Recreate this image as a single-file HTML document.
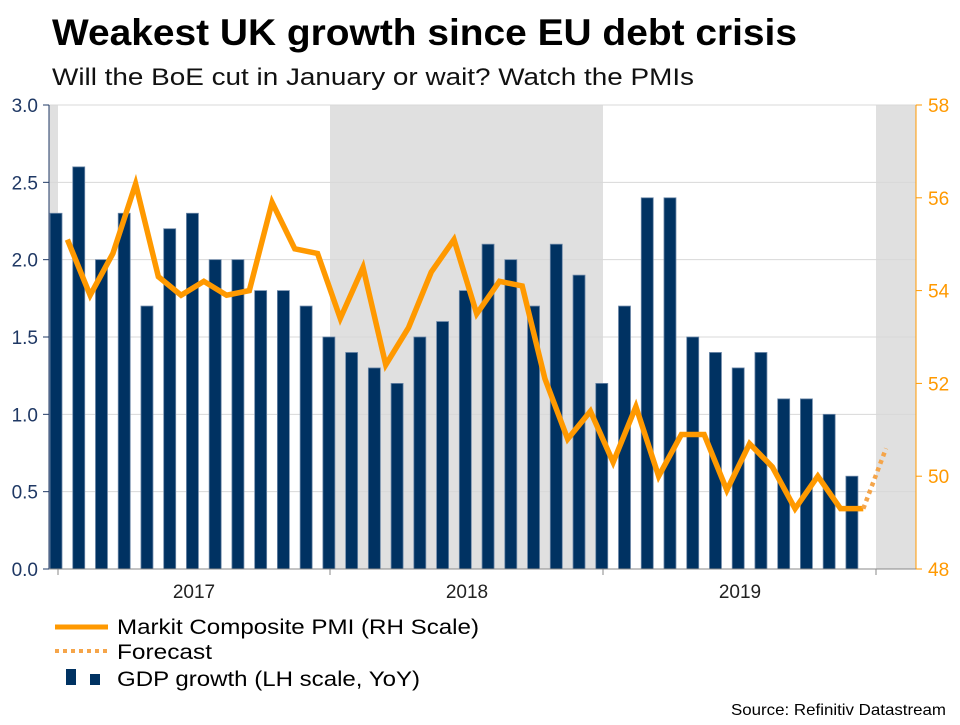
<!DOCTYPE html>
<html><head><meta charset="utf-8"><style>
body{margin:0;background:#fff;font-family:"Liberation Sans",Arial,sans-serif}
svg text{font-family:"Liberation Sans",Arial,sans-serif}
</style></head><body>
<svg id="c" width="960" height="720">
<text x="52" y="45" font-size="37" font-weight="bold" fill="#000" textLength="745" lengthAdjust="spacingAndGlyphs">Weakest UK growth since EU debt crisis</text>
<text x="52" y="85" font-size="24" fill="#111" textLength="642" lengthAdjust="spacingAndGlyphs">Will the BoE cut in January or wait? Watch the PMIs</text>
<g id="plot"></g>
<g>
<line x1="55" y1="627" x2="108" y2="627" stroke="#ff9900" stroke-width="5"/>
<text x="117" y="634" font-size="21" textLength="362" lengthAdjust="spacingAndGlyphs">Markit Composite PMI (RH Scale)</text>
<line x1="55" y1="651" x2="108" y2="651" stroke="#f5a54a" stroke-width="4" stroke-dasharray="4,4"/>
<text x="117" y="659" font-size="21" textLength="95" lengthAdjust="spacingAndGlyphs">Forecast</text>
<rect x="66" y="669" width="10" height="16" fill="#003262"/>
<rect x="90" y="674" width="10" height="11" fill="#003262"/>
<text x="117" y="686" font-size="21" textLength="303" lengthAdjust="spacingAndGlyphs">GDP growth (LH scale, YoY)</text>
</g>
<text x="946" y="715" font-size="16" text-anchor="end" textLength="215" lengthAdjust="spacingAndGlyphs">Source: Refinitiv Datastream</text>
</svg>
<script>
const gdp=[2.3,2.6,2.0,2.3,1.7,2.2,2.3,2.0,2.0,1.8,1.8,1.7,1.5,1.4,1.3,1.2,1.5,1.6,1.8,2.1,2.0,1.7,2.1,1.9,1.2,1.7,2.4,2.4,1.5,1.4,1.3,1.4,1.1,1.1,1.0,0.6];
const pmi=[55.1,53.9,54.8,56.3,54.3,53.9,54.2,53.9,54.0,55.9,54.9,54.8,53.4,54.5,52.4,53.2,54.4,55.1,53.5,54.2,54.1,52.1,50.8,51.4,50.3,51.5,50.0,50.9,50.9,49.7,50.7,50.2,49.3,50.0,49.3,49.3];
const forecast=[49.3,50.6];
const leftTicks=[0,0.5,1.0,1.5,2.0,2.5,3.0];
const rightTicks=[48,50,52,54,56,58];
const years=["2017","2018","2019"];
const NS="http://www.w3.org/2000/svg",g=document.getElementById('plot');
const L=49,R=916,T=105,B=569;
const yL=v=>B-(v/3)*(B-T);
const yR=v=>B-((v-48)/10)*(B-T);
const xBar=i=>56+i*22.74;
const xPt=i=>xBar(i)+11.4;
function el(t,a,p){const e=document.createElementNS(NS,t);for(const k in a)e.setAttribute(k,a[k]);(p||g).appendChild(e);return e;}
[[L,58],[330,603],[876,R]].forEach(s=>{const r=el('rect',{x:s[0],y:T,width:s[1]-s[0],height:B-T,fill:'#e0e0e0'});

});
leftTicks.forEach(v=>{const y=yL(v);
if(v>0){const l=el('line',{x1:L,x2:R,y1:y,y2:y,stroke:'#d8d8d8','stroke-width':1});

}
const t=el('text',{x:38,y:y+7,'font-size':19,fill:'#1f3864','text-anchor':'end'});t.textContent=v.toFixed(1);


el('line',{x1:L-6,x2:L,y1:y,y2:y,stroke:'#1f3864'});});
rightTicks.forEach(v=>{const y=yR(v);
const t=el('text',{x:928,y:y+7,'font-size':19,fill:'#ff9900'});t.textContent=v;


el('line',{x1:R,x2:R+6,y1:y,y2:y,stroke:'#ff9900'});});
gdp.forEach((v,i)=>{const r=el('rect',{x:xBar(i)-6,y:yL(v),width:12,height:B-yL(v),fill:'#003262',stroke:'#6d88a8','stroke-width':0.8});

});
el('line',{x1:L,x2:L,y1:T,y2:B,stroke:'#1f3864'});
el('line',{x1:R,x2:R,y1:T,y2:B,stroke:'#ff9900'});
el('line',{x1:L,x2:R,y1:B,y2:B,stroke:'#888'});
[58,330,603,876].forEach(x=>el('line',{x1:x,x2:x,y1:B,y2:B+6,stroke:'#888'}));
years.forEach((y,i)=>{const t=el('text',{x:194+i*273,y:598,'font-size':19,'text-anchor':'middle',fill:'#222'});t.textContent=y;

});
const p=el('polyline',{points:pmi.map((v,i)=>xPt(i)+','+yR(v)).join(' '),fill:'none',stroke:'#ff9900','stroke-width':5.5,'stroke-linejoin':'miter'});


const n=pmi.length-1;
const f=el('polyline',{points:forecast.map((v,i)=>xPt(n+i)+','+yR(v)).join(' '),fill:'none',stroke:'#f5a54a','stroke-width':4.5,'stroke-dasharray':'4,4'});


</script>
</body></html>
